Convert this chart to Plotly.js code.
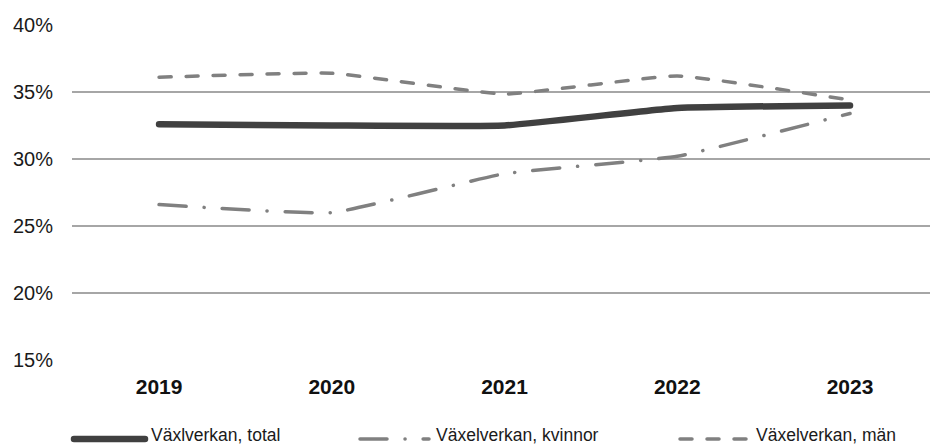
<!DOCTYPE html>
<html>
<head>
<meta charset="utf-8">
<script src="https://cdn.plot.ly/plotly-3.0.1.min.js"></script>
<style>
  html, body { margin: 0; padding: 0; background: #fff; }
  #chart { width: 930px; height: 447px; }
  .scatterlayer .js-line, .shapelayer path { stroke-linecap: round; }
</style>
</head>
<body>
<div id="chart"></div>
<script>
const years = ['2019', '2020', '2021', '2022', '2023'];
const total = [32.6, 32.5, 32.5, 33.8, 34.0];
const kvinnor = [26.6, 26.0, 28.9, 30.2, 33.4];
const man = [36.1, 36.4, 34.85, 36.2, 34.4];
const seriesNames = ['Växlverkan, total', 'Växelverkan, kvinnor', 'Växelverkan, män'];
const yTicks = [15, 20, 25, 30, 35, 40];
const yTickText = ['15%', '20%', '25%', '30%', '35%', '40%'];

const styles = [
  { color: '#404040', width: 6.5, dash: 'solid' },
  { color: '#808080', width: 3.5, dash: '27px,18px,0.1px,18px' },
  { color: '#808080', width: 3.5, dash: '12px,15px' }
];
const values = [total, kvinnor, man];

const traces = values.map((v, i) => ({
  x: years, y: v, type: 'scatter', mode: 'lines', name: seriesNames[i],
  line: { color: styles[i].color, width: styles[i].width, dash: styles[i].dash, shape: 'spline', smoothing: 0.35 },
  showlegend: false, hoverinfo: 'skip'
}));

// custom legend (pixel positions converted to paper)
const L = 72, W = 858, T = 25, H = 335;
const px = p => (p - L) / W;
const py = p => (T + H - p) / H;
const legendLineY = 439, legendTextY = 435;
const legendItems = [
  { x0: 74, x1: 145, tx: 149 },
  { x0: 360, x1: 429, tx: 434 },
  { x0: 680, x1: 748, tx: 754 }
];
const shapes = [], annotations = [];
legendItems.forEach((it, i) => {
  shapes.push({ type: 'line', xref: 'paper', yref: 'paper', x0: px(it.x0), x1: px(it.x1), y0: py(legendLineY), y1: py(legendLineY),
    line: { color: styles[i].color, width: styles[i].width, dash: styles[i].dash } });
  annotations.push({ xref: 'paper', yref: 'paper', x: px(it.tx), y: py(legendTextY), xanchor: 'left', yanchor: 'middle',
    text: seriesNames[i], showarrow: false, font: { family: 'Liberation Sans, Arial, sans-serif', size: 17.5, color: '#1a1a1a' } });
});

const layout = {
  width: 930, height: 447,
  margin: { l: L, r: 0, t: T, b: 447 - T - H, pad: 0 },
  paper_bgcolor: '#fff', plot_bgcolor: '#fff',
  font: { family: 'Liberation Sans, Arial, sans-serif', color: '#1a1a1a' },
  xaxis: {
    type: 'category', range: [-0.504, 4.463], showgrid: false, zeroline: false, showline: false,
    ticks: '', tickfont: { size: 21, color: '#111', weight: 'bold' }, ticklabelstandoff: 12, fixedrange: true
  },
  yaxis: {
    range: [15, 40], tickvals: yTicks, ticktext: yTickText, showgrid: true, gridcolor: '#a6a6a6', gridwidth: 1.3,
    zeroline: false, showline: false, ticks: '', tickfont: { size: 20, color: '#1a1a1a' }, ticklabelstandoff: 18, fixedrange: true
  },
  shapes: shapes, annotations: annotations, showlegend: false
};

Plotly.newPlot('chart', traces, layout, { staticPlot: true, displayModeBar: false });
</script>
</body>
</html>
